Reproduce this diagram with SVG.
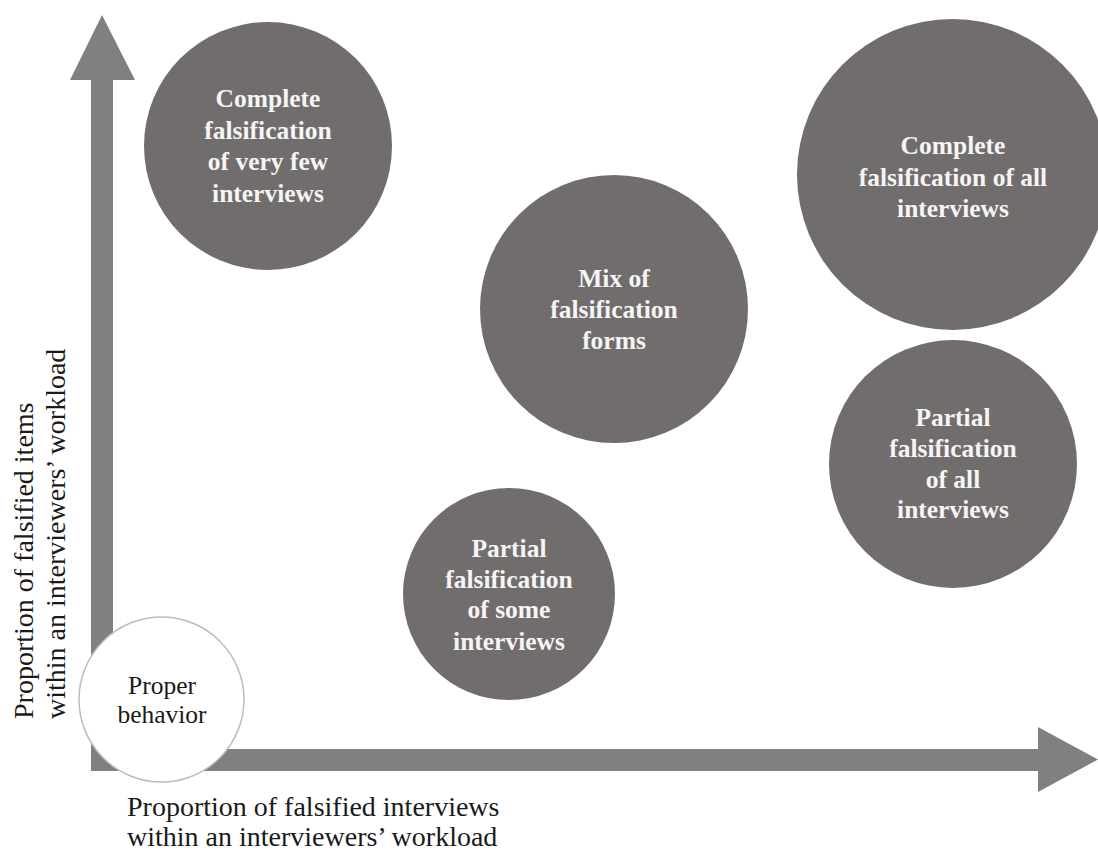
<svg xmlns="http://www.w3.org/2000/svg" width="1098" height="852" viewBox="0 0 1098 852">
  <style>
    .arrow { fill: #808080; }
    .blob { fill: #716d6c; }
    .serif { font-family: 'Liberation Serif', 'DejaVu Serif', serif; }
    .blobtxt { font-weight: bold; font-size: 25.5px; fill: #f5f5f5; text-anchor: middle; }
    .lbl { font-size: 28px; fill: #1a1a1a; }
    .proper { fill: #ffffff; stroke: #bdbdbd; stroke-width: 1.5; }
    .propertxt { font-size: 25.5px; fill: #1a1a1a; text-anchor: middle; }
  </style>
  <rect width="1098" height="852" fill="#ffffff"/>
  <g id="connectors">
    <polygon class="arrow" points="102,15 135,80 113,80 113,771 91,771 91,80 70,80"/>
    <polygon class="arrow" points="91,749 1038,749 1038,727 1098,759.5 1038,792 1038,771 91,771"/>
  </g>
  <g id="axis-y-label" class="serif" font-family="Liberation Serif, DejaVu Serif, serif">
    <text class="lbl" transform="translate(33,719) rotate(-90)">Proportion of falsified items</text>
    <text class="lbl" transform="translate(65,719) rotate(-90)">within an interviewers’ workload</text>
  </g>
  <g id="axis-x-label" class="serif" font-family="Liberation Serif, DejaVu Serif, serif">
    <text class="lbl" x="127" y="816">Proportion of falsified interviews</text>
    <text class="lbl" x="127" y="846">within an interviewers’ workload</text>
  </g>
  <g id="node-complete-few" class="serif" font-family="Liberation Serif, DejaVu Serif, serif">
    <circle class="blob" cx="268" cy="146" r="124"/>
    <text class="blobtxt" x="268" y="107">Complete</text>
    <text class="blobtxt" x="268" y="139">falsification</text>
    <text class="blobtxt" x="268" y="170">of very few</text>
    <text class="blobtxt" x="268" y="202">interviews</text>
  </g>
  <g id="node-complete-all" class="serif" font-family="Liberation Serif, DejaVu Serif, serif">
    <circle class="blob" cx="952.5" cy="174.5" r="155.5"/>
    <text class="blobtxt" x="953" y="154">Complete</text>
    <text class="blobtxt" x="953" y="186">falsification of all</text>
    <text class="blobtxt" x="953" y="217">interviews</text>
  </g>
  <g id="node-mix" class="serif" font-family="Liberation Serif, DejaVu Serif, serif">
    <circle class="blob" cx="614" cy="309" r="134"/>
    <text class="blobtxt" x="614" y="287">Mix of</text>
    <text class="blobtxt" x="614" y="318">falsification</text>
    <text class="blobtxt" x="614" y="349">forms</text>
  </g>
  <g id="node-partial-all" class="serif" font-family="Liberation Serif, DejaVu Serif, serif">
    <circle class="blob" cx="953" cy="464" r="124"/>
    <text class="blobtxt" x="953" y="426">Partial</text>
    <text class="blobtxt" x="953" y="457">falsification</text>
    <text class="blobtxt" x="953" y="488">of all</text>
    <text class="blobtxt" x="953" y="518">interviews</text>
  </g>
  <g id="node-partial-some" class="serif" font-family="Liberation Serif, DejaVu Serif, serif">
    <circle class="blob" cx="509" cy="594" r="106"/>
    <text class="blobtxt" x="509" y="557">Partial</text>
    <text class="blobtxt" x="509" y="588">falsification</text>
    <text class="blobtxt" x="509" y="618">of some</text>
    <text class="blobtxt" x="509" y="650">interviews</text>
  </g>
  <g id="node-proper" class="serif" font-family="Liberation Serif, DejaVu Serif, serif">
    <circle class="proper" cx="161.5" cy="699.5" r="82.5"/>
    <text class="propertxt" x="162" y="694">Proper</text>
    <text class="propertxt" x="162" y="723">behavior</text>
  </g>
</svg>
